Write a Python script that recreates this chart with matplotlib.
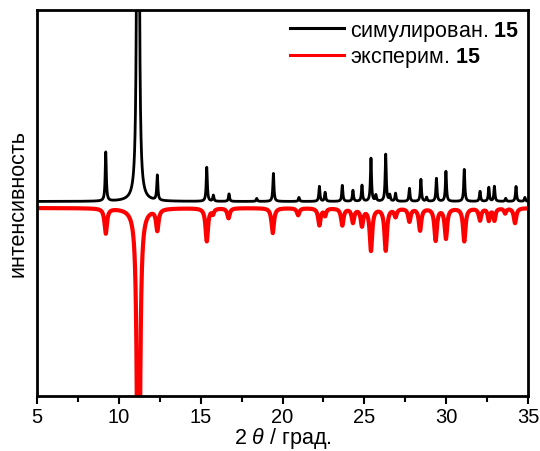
import numpy as np
import matplotlib
matplotlib.use("Agg")
import matplotlib.pyplot as plt
from matplotlib.ticker import MultipleLocator

plt.rcParams['font.family'] = ['Liberation Sans', 'DejaVu Sans']
plt.rcParams['mathtext.fontset'] = 'custom'
plt.rcParams['mathtext.rm'] = 'Liberation Sans'
plt.rcParams['mathtext.it'] = 'Liberation Sans:italic'
plt.rcParams['mathtext.bf'] = 'Liberation Sans:bold'

# Simulated pattern: peak positions (2θ, deg), heights and FWHM (deg)
sim_pos = [9.20, 11.17, 12.35, 15.37, 15.77, 16.73, 18.42, 19.44, 21.00,
           22.25, 22.60, 23.65, 24.30, 24.85, 25.40, 25.70, 26.30, 26.55,
           26.90, 27.75, 28.45, 28.80, 29.40, 29.98, 31.10, 32.06, 32.60,
           32.94, 33.63, 34.26, 34.80]
sim_height = [49, 2500, 25, 34, 6, 7.5, 3, 28, 4,
              15, 9, 16, 11, 16, 43, 6, 47, 6,
              8, 13, 22, 4, 23, 30, 32, 10, 14,
              15, 3, 15, 4]
sim_fwhm = [0.08, 0.06, 0.08, 0.08, 0.08, 0.08, 0.08, 0.08, 0.08,
            0.08, 0.08, 0.08, 0.08, 0.08, 0.08, 0.08, 0.08, 0.08,
            0.08, 0.08, 0.08, 0.08, 0.08, 0.08, 0.08, 0.08, 0.08,
            0.08, 0.08, 0.08, 0.08]

# Experimental pattern (drawn inverted below the simulated one)
exp_pos = [9.20, 11.20, 12.35, 15.37, 15.75, 16.70, 19.40, 20.95,
           22.25, 22.60, 23.65, 24.30, 24.85, 25.40, 26.30, 26.90,
           27.75, 28.40, 29.35, 29.98, 31.10, 32.06, 32.60, 32.94,
           33.60, 34.20]
exp_depth = [25, 665, 21, 33, 5, 10, 25, 7,
             17, 7, 17, 14, 17, 42, 42, 8,
             13, 22, 32, 30, 33, 12, 12, 12,
             5, 15]
exp_fwhm = [0.18, 0.133, 0.18, 0.18, 0.15, 0.18, 0.18, 0.18,
            0.18, 0.15, 0.18, 0.18, 0.18, 0.18, 0.18, 0.18,
            0.18, 0.18, 0.18, 0.18, 0.18, 0.18, 0.15, 0.15,
            0.15, 0.18]
exp_offset = -6.5

two_theta = np.linspace(5, 35, 6001)


def profile(x, pos, amp, fwhm):
    y = np.zeros_like(x)
    for p, a, w in zip(pos, amp, fwhm):
        hw = w / 2.0
        y += a * hw ** 2 / ((x - p) ** 2 + hw ** 2)
    return y


sim = profile(two_theta, sim_pos, sim_height, sim_fwhm)
exp = exp_offset - profile(two_theta, exp_pos, exp_depth, exp_fwhm)

fig = plt.figure(figsize=(5.4, 4.52), dpi=100)
ax = fig.add_axes([0.0685, 0.1217, 0.9095, 0.854])

ax.plot(two_theta, sim, color='black', lw=2.0, label=r'симулирован. $\mathbf{15}$', zorder=3)
ax.plot(two_theta, exp, color='#ff0000', lw=3.0, label=r'эксперим. $\mathbf{15}$', zorder=2)

ax.set_xlim(5, 35)
ax.set_ylim(-194.5, 191.5)
ax.xaxis.set_major_locator(MultipleLocator(5))
ax.xaxis.set_minor_locator(MultipleLocator(2.5))
ax.set_yticks([])
ax.tick_params(axis='x', which='major', direction='out', length=6, width=1.5,
               labelsize=14.5, pad=2)
ax.tick_params(axis='x', which='minor', direction='out', length=4, width=1.5)
for s in ax.spines.values():
    s.set_linewidth(2.0)

ax.set_xlabel(r'2 $\theta$ / град.', fontsize=15.5, labelpad=-1)
ax.set_ylabel('интенсивность', fontsize=15.5, labelpad=6)

leg = ax.legend(loc='upper right', frameon=False, fontsize=15.5,
                handlelength=2.5, handletextpad=0.3, labelspacing=0.12,
                borderaxespad=0.0, bbox_to_anchor=(1.0, 1.0))
for line in leg.get_lines():
    line.set_linewidth(2.2)

fig.savefig('out.png', dpi=100)
